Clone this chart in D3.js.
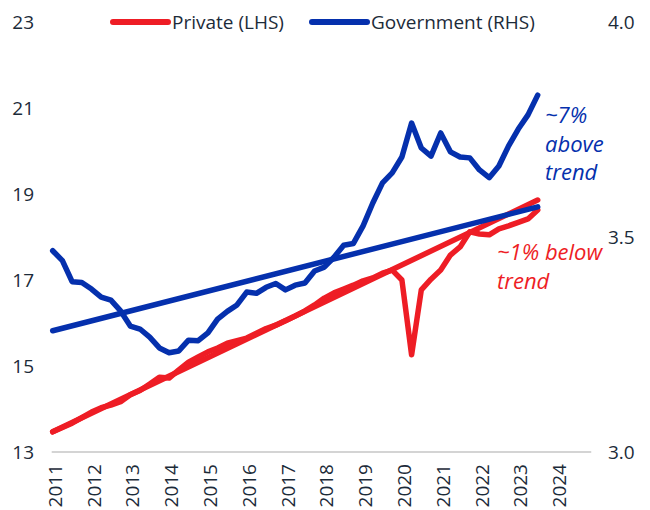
<!DOCTYPE html>
<html>
<head>
<meta charset="utf-8">
<script src="https://cdn.jsdelivr.net/npm/d3@7"></script>
<style>
  body { margin: 0; background: #fff; }
  text { font-family: "Open Sans", "Noto Sans", sans-serif; }
</style>
</head>
<body>
<svg id="chart" width="650" height="510"></svg>
<script>
// quarterly, 2011 Q1 .. 2023 Q3
var startYear = 2011;
var privateVals = [13.47, 13.57, 13.67, 13.80, 13.93, 14.03, 14.09, 14.17, 14.33, 14.43,
  14.58, 14.74, 14.72, 14.91, 15.09, 15.21, 15.33, 15.42, 15.53, 15.59,
  15.65, 15.76, 15.87, 15.95, 16.05, 16.16, 16.28, 16.42, 16.58, 16.70,
  16.79, 16.88, 16.98, 17.05, 17.16, 17.23, 17.00, 15.26, 16.77, 17.02,
  17.23, 17.58, 17.77, 18.12, 18.07, 18.05, 18.19, 18.26, 18.34, 18.42, 18.63];
var governmentVals = [3.468, 3.445, 3.396, 3.394, 3.379, 3.360, 3.353, 3.328, 3.293, 3.286,
  3.267, 3.242, 3.231, 3.235, 3.260, 3.259, 3.277, 3.309, 3.327, 3.342,
  3.372, 3.369, 3.383, 3.392, 3.377, 3.388, 3.393, 3.421, 3.430, 3.453,
  3.481, 3.485, 3.526, 3.579, 3.626, 3.649, 3.686, 3.765, 3.707, 3.688,
  3.742, 3.698, 3.686, 3.684, 3.656, 3.638, 3.665, 3.712, 3.751, 3.784, 3.830];
// trend lines: start and end points
var privateTrend = [[2011, 13.47], [2023.5, 18.86]];
var governmentTrend = [[2011, 3.282], [2023.5, 3.570]];

var yearTicks = d3.range(2011, 2025);
var leftTicks = [13, 15, 17, 19, 21, 23];
var rightTicks = [3.0, 3.5, 4.0];

var red = "#ee1d25", blue = "#0530ad", ink = "#1c2b39";

var svg = d3.select("#chart");

var x = d3.scaleLinear().domain([2011, 2025]).range([52.7, 595.9]);
var yL = d3.scaleLinear().domain([13, 23]).range([452, 22]);
var yR = d3.scaleLinear().domain([3.0, 4.0]).range([452, 22]);

function toSeries(vals) {
  return vals.map(function(v, i) { return [startYear + i / 4, v]; });
}

// baseline
svg.append("line")
  .attr("x1", x(2011) - 1).attr("x2", x(2024.88))
  .attr("y1", yL(13)).attr("y2", yL(13))
  .attr("stroke", "#d4d4d4").attr("stroke-width", 2);

// axes
var gL = svg.append("g").attr("transform", "translate(34,0)")
  .call(d3.axisLeft(yL).tickValues(leftTicks).tickSize(0).tickPadding(0));
var gR = svg.append("g").attr("transform", "translate(608,0)")
  .call(d3.axisRight(yR).tickValues(rightTicks).tickSize(0).tickPadding(0).tickFormat(d3.format(".1f")));
var gX = svg.append("g").attr("transform", "translate(0," + yL(13) + ")")
  .call(d3.axisBottom(x).tickValues(yearTicks).tickSize(0).tickFormat(d3.format("d")));

[gL, gR, gX].forEach(function(g) {
  g.select(".domain").remove();
  g.selectAll("text").attr("fill", ink).style("font-size", "19px")
    .style("font-family", "\"Open Sans\", sans-serif");
});
gX.selectAll("text")
  .attr("x", 0).attr("y", 0).attr("dy", "0.35em")
  .attr("text-anchor", "end")
  .attr("transform", "translate(2,12) rotate(-90)");

var lineL = d3.line().x(function(d) { return x(d[0]); }).y(function(d) { return yL(d[1]); });
var lineR = d3.line().x(function(d) { return x(d[0]); }).y(function(d) { return yR(d[1]); });

function drawLine(data, gen, color) {
  svg.append("path").datum(data)
    .attr("d", gen)
    .attr("fill", "none")
    .attr("stroke", color)
    .attr("stroke-width", 5.5)
    .attr("stroke-linejoin", "round")
    .attr("stroke-linecap", "round");
}

drawLine(privateTrend, lineL, red);
drawLine(toSeries(privateVals), lineL, red);
drawLine(governmentTrend, lineR, blue);
drawLine(toSeries(governmentVals), lineR, blue);

// legend
var legend = [
  {label: "Private (LHS)", color: red, x: 113},
  {label: "Government (RHS)", color: blue, x: 312}
];
legend.forEach(function(l) {
  svg.append("line")
    .attr("x1", l.x).attr("x2", l.x + 55).attr("y1", 22).attr("y2", 22)
    .attr("stroke", l.color).attr("stroke-width", 6).attr("stroke-linecap", "round");
  svg.append("text")
    .attr("x", l.x + 59).attr("y", 22).attr("dy", "0.35em")
    .attr("fill", ink).style("font-size", "19px")
    .text(l.label);
});

// annotations
function annotate(lines, color, ax, ay) {
  var t = svg.append("text")
    .attr("fill", color).style("font-size", "22px").style("font-style", "italic");
  lines.forEach(function(s, i) {
    t.append("tspan").attr("x", ax).attr("y", ay + i * 28.5).text(s);
  });
}
annotate(["~7%", "above", "trend"], blue, 545, 123);
annotate(["~1% below", "trend"], red, 497, 260);
</script>
</body>
</html>
